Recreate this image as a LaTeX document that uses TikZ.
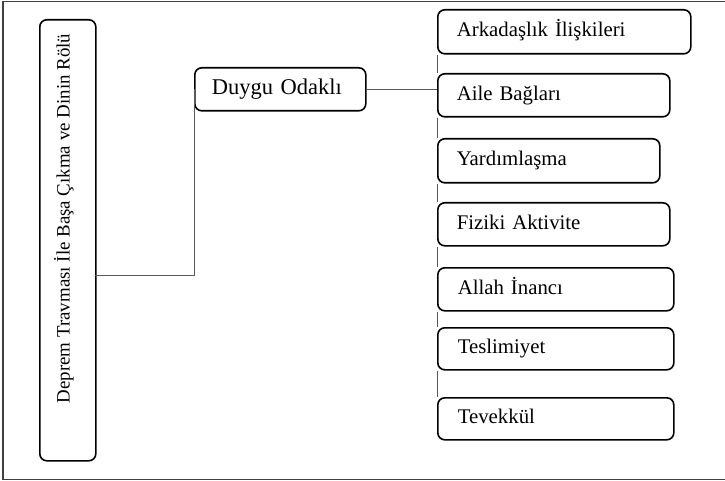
\documentclass[tikz,border=0pt]{standalone}
\usepackage{fontspec}
\setmainfont{Liberation Serif}
\begin{document}
\begin{tikzpicture}[x=1pt,y=-1pt,
  box/.style={draw=black, line width=1.6pt, rounded corners=7pt, fill=white,
    anchor=north west, inner xsep=19pt, inner ysep=0pt, align=left,
    text height=14pt, text depth=4pt, font=\fontsize{20.8}{23}\selectfont},
  conn/.style={draw=black!65, line width=0.9pt}]
\useasboundingbox (0,0) rectangle (725,481);
\draw[black!75, line width=1.2pt] (727,1.5) -- (3,1.5) -- (3,479.5) -- (727,479.5);
% main box
\node[draw=black, line width=1.6pt, rounded corners=7pt, anchor=north west,
  minimum width=56pt, minimum height=441pt, inner sep=0pt] (main) at (39,19) {};
\node[rotate=90, inner sep=0pt, font=\fontsize{18.9}{21}\selectfont,
  text height=12.5pt, text depth=3.5pt] (maintext) at (65,218.5)
  {Deprem Travması İle Başa Çıkma ve Dinin Rölü};
% Duygu Odakli
\node[box, minimum height=43pt, text width=137pt, inner xsep=17pt,
  font=\fontsize{22.5}{24}\selectfont] (duygu) at (194,67) {Duygu Odaklı};
\coordinate (mainout) at (95,275);
% right boxes
\node[box, minimum height=44pt, text width=215pt] (ark) at (437,9) {Arkadaşlık İlişkileri};
\node[box, minimum height=43pt, text width=194pt] (aile) at (437,73) {Aile Bağları};
\node[box, minimum height=44pt, text width=184pt] (yard) at (437,138) {Yardımlaşma};
\node[box, minimum height=43pt, text width=194pt] (fiz) at (437,202) {Fiziki Aktivite};
\node[box, minimum height=43pt, text width=196pt, inner xsep=20pt] (allah) at (437,267) {Allah İnancı};
\node[box, minimum height=42pt, text width=196pt, inner xsep=20pt] (tesl) at (437,327) {Teslimiyet};
\node[box, minimum height=42pt, text width=196pt, inner xsep=20pt] (tev) at (437,397) {Tevekkül};
% connectors
\draw[conn] (mainout) -| (duygu.west);
\draw[conn] (duygu.east) -- (duygu.east -| ark.west);
\draw[conn] (ark.south west) -- (aile.north west);
\draw[conn] (aile.south west) -- (yard.north west);
\draw[conn] (yard.south west) -- (fiz.north west);
\draw[conn] (fiz.south west) -- (allah.north west);
\draw[conn] (allah.south west) -- (tesl.north west);
\draw[conn] (tesl.south west) -- (tev.north west);
\end{tikzpicture}
\end{document}
